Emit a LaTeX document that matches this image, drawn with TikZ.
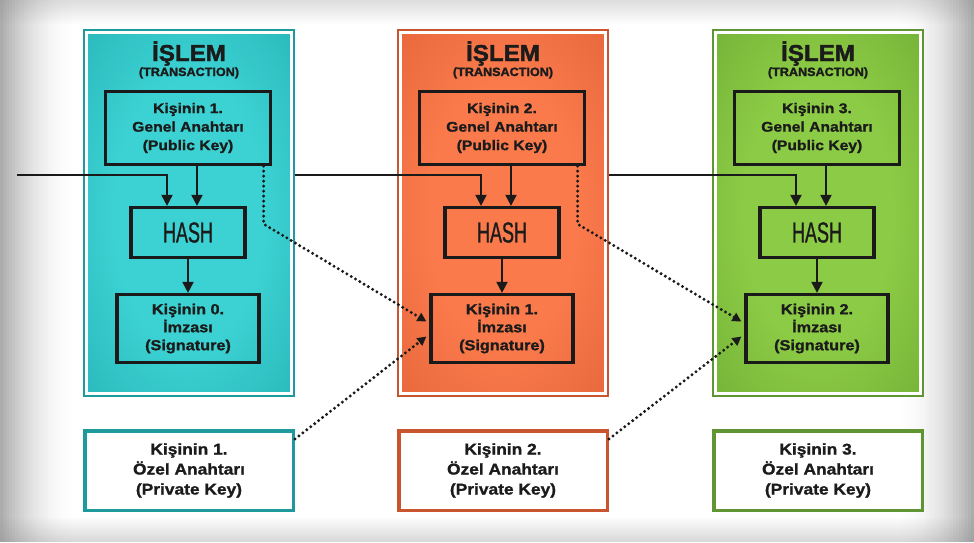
\documentclass[tikz,border=0pt]{standalone}
\usepackage{fontspec}
\setmainfont{Liberation Sans}
\newfontfamily\boxfont[FakeStretch=1.12,FakeBold=1.3]{Liberation Sans Bold}
\newfontfamily\titlefont[FakeStretch=1.05,FakeBold=1.8]{Liberation Sans Bold}
\newfontfamily\hashfont[FakeStretch=0.62,FakeBold=0.8]{Liberation Sans}
\usetikzlibrary{arrows.meta}
\definecolor{tealL}{HTML}{3CD2D3}
\definecolor{tealD}{HTML}{179EA3}
\definecolor{tealB}{HTML}{1E9A9C}
\definecolor{orgL}{HTML}{FA7A4C}
\definecolor{orgD}{HTML}{D4552C}
\definecolor{orgB}{HTML}{C9552F}
\definecolor{grnL}{HTML}{8CCB45}
\definecolor{grnD}{HTML}{5E9A2A}
\definecolor{grnB}{HTML}{5F9633}
\definecolor{boxline}{HTML}{1A1A1A}
\definecolor{txt}{HTML}{1B1B1B}
\definecolor{vig}{HTML}{8A8A8A}
\colorlet{pin}{tealL}
\colorlet{pout}{tealD}
\pgfdeclareradialshading[pin,pout]{panelshade}{\pgfpoint{0bp}{0bp}}{color(0bp)=(pin); color(18bp)=(pin); color(55bp)=(pout); color(75bp)=(pout)}
\tikzset{
  panel/.style={shade, shading=panelshade, line width=4.5pt, minimum width=207.5pt, minimum height=363.5pt, inner sep=0pt},
  box/.style={draw=boxline, line width=3.2pt, inner sep=0pt, align=center, text=txt},
  pubbox/.style={box, minimum width=165pt, minimum height=73pt, font=\boxfont\fontsize{14}{18.5}\selectfont},
  hashbox/.style={box, minimum width=114pt, minimum height=50pt, font=\hashfont\fontsize{29}{29}\selectfont},
  sigbox/.style={box, minimum width=142pt, minimum height=68pt, font=\boxfont\fontsize{14.5}{18}\selectfont},
  privbox/.style={fill=white, line width=3.5pt, minimum width=208.5pt, minimum height=79.5pt, align=center, inner sep=0pt, text=txt, font=\boxfont\fontsize{15.5}{20}\selectfont},
  titletxt/.style={text=txt, inner sep=0pt, font=\titlefont\fontsize{23}{23}\selectfont},
  subtxt/.style={text=txt, inner sep=0pt, font=\titlefont\fontsize{12}{12}\selectfont},
  arr/.style={line width=1.9pt, draw=boxline, -{Triangle[length=11pt,width=11pt]}},
  dotarr/.style={line width=3.3pt, draw=boxline, line cap=round, dash pattern=on 0pt off 5pt, -{Triangle[length=9pt,width=9pt]}}
}
\begin{document}
\begin{tikzpicture}[x=1pt,y=-1pt]
\useasboundingbox (0,0) rectangle (974,542);
\fill[white] (0,0) rectangle (974,542);
\foreach \k in {0,...,11} {
  \fill[vig, opacity={0.28*(1-\k/12)}] (0,2*\k) rectangle (974,2*\k+2);
  \fill[vig, opacity={0.32*(1-\k/12)}] (0,540-2*\k) rectangle (974,542-2*\k);
}
\foreach \k in {0,...,24} {
  \fill[vig, opacity={0.7*(1-\k/25)*(1-\k/25)}] (3*\k,0) rectangle (3*\k+3,542);
  \fill[vig, opacity={0.7*(1-\k/25)*(1-\k/25)}] (971-3*\k,0) rectangle (974-3*\k,542);
}
\foreach \i/\xo/\cl/\cd/\cb/\s in {1/83/tealL/tealD/tealB/0, 2/397/orgL/orgD/orgB/1, 3/712/grnL/grnD/grnB/2} {
  \colorlet{pin}{\cl}\colorlet{pout}{\cd}
  \node[panel, draw=\cb] (panel\i) at (\xo+106,213) {};
  \draw[white, line width=3pt] ([shift={(3.75pt,-3.75pt)}]panel\i.north west) rectangle ([shift={(-3.75pt,3.75pt)}]panel\i.south east);
  \node[titletxt, anchor=base] (title\i) at (\xo+106,61) {İŞLEM};
  \node[subtxt, anchor=base] (sub\i) at (\xo+106,76) {(TRANSACTION)};
  \node[pubbox] (pub\i) at (\xo+105,128) {Kişinin \i.\\Genel Anahtarı\\(Public Key)};
  \node[hashbox] (hash\i) at (\xo+105,232.5) {HASH};
  \node[sigbox] (sig\i) at (\xo+105,328.5) {Kişinin \s.\\İmzası\\(Signature)};
  \node[privbox, draw=\cb] (priv\i) at (\xo+106,470.5) {Kişinin \i.\\Özel Anahtarı\\(Private Key)};
  \draw[arr] ([xshift=9pt]pub\i.south) -- ([xshift=9pt]hash\i.north);
  \draw[arr] (hash\i.south) -- (sig\i.north);
}
\coordinate (in0) at (17,175);
\draw[arr] (in0) -| ([xshift=-21pt]hash1.north);
\draw[arr] (panel1.east |- in0) -| ([xshift=-21pt]hash2.north);
\draw[arr] (panel2.east |- in0) -| ([xshift=-21pt]hash3.north);
\coordinate (d1) at ([xshift=-8.5pt]pub1.south east);
\coordinate (e1) at (d1 |- 0,224);
\draw[dotarr] (d1) -- (e1) -- ([xshift=-3pt,yshift=7pt]sig2.west);
\draw[dotarr] ([yshift=-10pt]priv1.north east) -- ([xshift=-3pt,yshift=-8pt]sig2.west);
\coordinate (d2) at ([xshift=-8.5pt]pub2.south east);
\coordinate (e2) at (d2 |- 0,224);
\draw[dotarr] (d2) -- (e2) -- ([xshift=-3pt,yshift=7pt]sig3.west);
\draw[dotarr] ([yshift=-10pt]priv2.north east) -- ([xshift=-3pt,yshift=-8pt]sig3.west);
\end{tikzpicture}
\end{document}
